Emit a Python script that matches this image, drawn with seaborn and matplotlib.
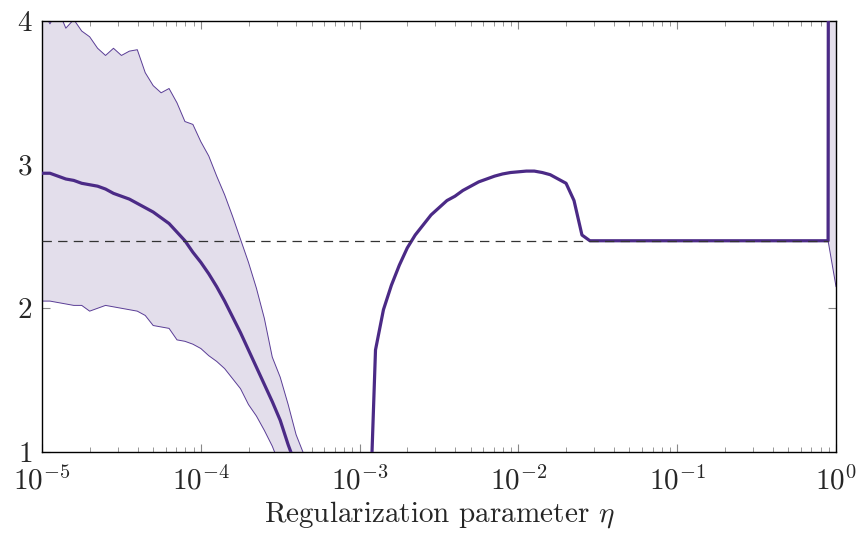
import numpy as np
import pandas as pd
import matplotlib
matplotlib.use("Agg")
import matplotlib.pyplot as plt
import seaborn as sns
from matplotlib.ticker import LogLocator, NullLocator

# regularization grid: 20 points per decade
eta = np.logspace(-5, 0, 101)

mean_vals = [
    2.94, 2.94, 2.92, 2.90, 2.89, 2.87, 2.86, 2.85, 2.83, 2.80,
    2.78, 2.76, 2.73, 2.70, 2.67, 2.63, 2.59, 2.53, 2.47, 2.39,
    2.32, 2.24, 2.15, 2.05, 1.94, 1.83, 1.71, 1.59, 1.47, 1.35,
    1.22, 1.05, 0.90, 0.74, 0.58, 0.44, 0.32, 0.22, 0.15, 0.10,
    0.08, 0.09, 1.71, 1.99, 2.16, 2.30, 2.42, 2.51, 2.58, 2.65,
    2.70, 2.75, 2.78, 2.82, 2.85, 2.88, 2.90, 2.92, 2.935, 2.945,
    2.95, 2.955, 2.955, 2.945, 2.93, 2.90, 2.87, 2.75, 2.51, 2.47,
    2.47, 2.47, 2.47, 2.47, 2.47, 2.47, 2.47, 2.47, 2.47, 2.47,
    2.47, 2.47, 2.47, 2.47, 2.47, 2.47, 2.47, 2.47, 2.47, 2.47,
    2.47, 2.47, 2.47, 2.47, 2.47, 2.47, 2.47, 2.47, 2.47, 2.47,
    60.0,
]

lower_vals = [
    2.05, 2.05, 2.04, 2.03, 2.02, 2.02, 1.98, 2.00, 2.02, 2.01,
    2.00, 1.99, 1.98, 1.95, 1.88, 1.87, 1.86, 1.78, 1.77, 1.75,
    1.72, 1.67, 1.63, 1.58, 1.51, 1.44, 1.33, 1.25, 1.15, 1.04,
    0.90, 0.75, 0.60, 0.48, 0.38, 0.30, 0.22, 0.16, 0.12, 0.09,
    0.08, 0.09,
] + mean_vals[42:100] + [2.15]

upper_vals = [
    4.08, 3.98, 4.08, 3.95, 4.01, 3.93, 3.89, 3.81, 3.76, 3.81,
    3.76, 3.79, 3.80, 3.64, 3.55, 3.50, 3.53, 3.43, 3.30, 3.28,
    3.16, 3.06, 2.92, 2.79, 2.64, 2.48, 2.32, 2.14, 1.93, 1.66,
    1.52, 1.33, 1.12, 0.98, 0.82, 0.66, 0.52, 0.40, 0.30, 0.22,
    0.15, 0.10,
] + mean_vals[42:100] + [80.0]

ref_level = 2.47

main_color = "#4b2a86"
edge_color = "#5a3d96"
fill_color = "#e3deeb"

sns.set_style("ticks")
plt.rcParams["font.family"] = ["cmr10", "DejaVu Serif"]
plt.rcParams["mathtext.fontset"] = "cm"
plt.rcParams["axes.formatter.use_mathtext"] = True

df = pd.DataFrame({"eta": eta, "mean": mean_vals})

fig, ax = plt.subplots(figsize=(8.61, 5.38), dpi=100)
fig.subplots_adjust(left=0.0488, right=0.971, top=0.961, bottom=0.160)

ax.fill_between(eta, lower_vals, upper_vals, color=fill_color, lw=0)
ax.plot(eta, lower_vals, color=edge_color, lw=0.7)
ax.plot(eta, upper_vals, color=edge_color, lw=0.7)
ax.plot(eta[:-1], [ref_level] * (len(eta) - 1), color="#333333", lw=0.9,
        dashes=(7.5, 5), zorder=4)
sns.lineplot(data=df, x="eta", y="mean", color=main_color, lw=2.3, ax=ax,
             zorder=3)

ax.set_xscale("log")
ax.set_xlim(1e-5, 1)
ax.set_ylim(1, 4)
ax.set_yticks([1, 2, 3, 4])
ax.xaxis.set_major_locator(LogLocator(base=10, numticks=10))
ax.xaxis.set_minor_locator(LogLocator(base=10, subs=np.arange(2, 10), numticks=20))
ax.yaxis.set_minor_locator(NullLocator())

ax.tick_params(which="both", direction="in", top=True, right=True,
               color="#888888", labelsize=21)
ax.tick_params(which="major", length=6, width=0.8)
ax.tick_params(which="minor", length=3.5, width=0.6)
ax.tick_params(axis="y", pad=7)
ax.tick_params(axis="x", pad=10)

for sp in ax.spines.values():
    sp.set_color("black")
    sp.set_linewidth(1.0)

ax.set_xlabel(r"Regularization parameter $\eta$", fontsize=21, labelpad=3)
ax.set_ylabel("")

fig.savefig("out.png", dpi=100)
